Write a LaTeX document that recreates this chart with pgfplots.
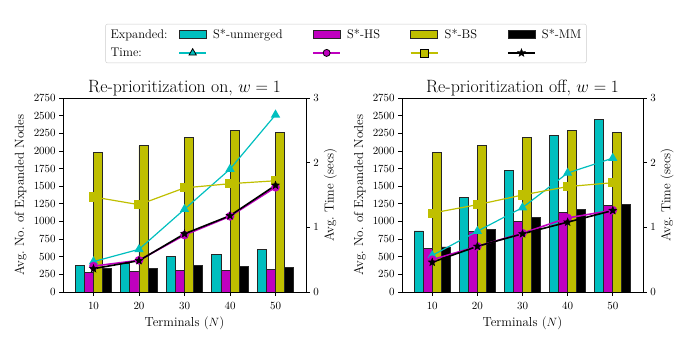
\documentclass[border=0pt]{standalone}
\usepackage{pgfplots}
\pgfplotsset{compat=1.18}
\usetikzlibrary{plotmarks}

\definecolor{cC}{rgb}{0,0.75,0.75}
\definecolor{cM}{rgb}{0.75,0,0.75}
\definecolor{cY}{rgb}{0.75,0.75,0}

% filled five-pointed star, like matplotlib's '*'
\pgfdeclareplotmark{fstar}{%
  \pgfpathmoveto{\pgfpointpolar{90}{\pgfplotmarksize}}%
  \pgfpathlineto{\pgfpointpolar{126}{0.42\pgfplotmarksize}}%
  \pgfpathlineto{\pgfpointpolar{162}{\pgfplotmarksize}}%
  \pgfpathlineto{\pgfpointpolar{198}{0.42\pgfplotmarksize}}%
  \pgfpathlineto{\pgfpointpolar{234}{\pgfplotmarksize}}%
  \pgfpathlineto{\pgfpointpolar{270}{0.42\pgfplotmarksize}}%
  \pgfpathlineto{\pgfpointpolar{306}{\pgfplotmarksize}}%
  \pgfpathlineto{\pgfpointpolar{342}{0.42\pgfplotmarksize}}%
  \pgfpathlineto{\pgfpointpolar{18}{\pgfplotmarksize}}%
  \pgfpathlineto{\pgfpointpolar{54}{0.42\pgfplotmarksize}}%
  \pgfpathclose
  \pgfusepathqfillstroke}

\pgfplotsset{
  common/.style={scale only axis, height=194pt, xmin=3.3, xmax=56.7,
    tick align=outside, major tick length=3.8pt,
    major tick style={black, line width=0.8pt},
    axis line style={line width=0.8pt},
    /pgf/number format/1000 sep={},
    tick label style={font=\fontsize{10.5}{12}\selectfont},
    label style={font=\fontsize{13}{15}\selectfont}},
  barax/.style={common, ymin=0, ymax=2750,
    xtick={10,20,30,40,50}, ytick={0,250,...,2750}, tick pos=left,
    xticklabel style={yshift=-3pt},
    xlabel={Terminals ($N$)}, ylabel={Avg.\ No.\ of Expanded Nodes},
    xlabel style={at={(axis description cs:0.5,-0.16)}, anchor=center},
    ylabel style={at={(axis description cs:-0.175,0.5)}, anchor=center},
    title style={font=\fontsize{17.8}{20}\selectfont, at={(axis description cs:0.5,1.02)}, anchor=center}},
  timeax/.style={common, ymin=0, ymax=3, ytick={0,1,2,3},
    axis x line=none, axis y line*=right, clip=false,
    ylabel={Avg.\ Time (secs)},
    ylabel style={at={(axis description cs:1.10,0.5)}, anchor=center}},
  bar/.style={ybar, bar width=2, draw=black!85, line width=0.8pt, forget plot},
  ln/.style={line width=1.2pt, mark options={draw=black, line width=0.8pt, solid}, forget plot},
  barleg/.style={legend image code/.code={\draw[sharp corners,##1] (0pt,-4pt) rectangle (27pt,4pt); \path[draw=none,fill=none] (0pt,0pt) -- (32pt,0pt);}},
  lineleg/.style={legend image code/.code={\draw[sharp corners,mark repeat=2,mark phase=2,##1] plot coordinates {(0pt,0pt) (13.5pt,0pt) (27pt,0pt)}; \path[draw=none,fill=none] (0pt,0pt) -- (32pt,0pt);}},
}

\begin{document}
\begin{tikzpicture}
\useasboundingbox (0,0) rectangle (689pt,345pt);

% ---- left: re-prioritization on ----
\begin{axis}[barax, at={(63pt,53pt)}, anchor=south west, width=243pt,
  title={Re-prioritization on, $w=1$},
  legend style={at={(axis description cs:1.1646,1.281)}, anchor=center,
    draw=black!20, rounded corners=2pt, font=\fontsize{12.5}{14}\selectfont,
    legend columns=5, row sep=4pt, inner ysep=3pt,
    /tikz/every even column/.append style={column sep=28pt}},
  legend cell align=left]
\addplot[bar, fill=cC, bar shift=-3] coordinates {(10,380) (20,405) (30,507) (40,535) (50,597)};
\addplot[bar, fill=cM, bar shift=-1] coordinates {(10,279) (20,290) (30,305) (40,307) (50,325)};
\addplot[bar, fill=cY, bar shift=1] coordinates {(10,1980) (20,2072) (30,2197) (40,2287) (50,2265)};
\addplot[bar, fill=black, bar shift=3] coordinates {(10,330) (20,331) (30,378) (40,360) (50,350)};
\addlegendimage{empty legend}\addlegendentry{\makebox[38pt][l]{Expanded:}}
\addlegendimage{barleg, fill=cC, draw=black!85, line width=0.8pt}\addlegendentry{S*-unmerged}
\addlegendimage{barleg, fill=cM, draw=black!85, line width=0.8pt}\addlegendentry{S*-HS}
\addlegendimage{barleg, fill=cY, draw=black!85, line width=0.8pt}\addlegendentry{S*-BS}
\addlegendimage{barleg, fill=black, draw=black!85, line width=0.8pt}\addlegendentry{S*-MM}
\addlegendimage{empty legend}\addlegendentry{\makebox[38pt][l]{Time:}}
\addlegendimage{lineleg, cC, line width=1.2pt, mark=triangle*, mark size=4.2pt, mark options={draw=black, fill=cC, line width=0.8pt}}\addlegendentry{}
\addlegendimage{lineleg, cM, line width=1.2pt, mark=*, mark size=3.5pt, mark options={draw=black, fill=cM, line width=0.8pt}}\addlegendentry{}
\addlegendimage{lineleg, cY, line width=1.2pt, mark=square*, mark size=4pt, mark options={draw=black, fill=cY, line width=0.8pt}}\addlegendentry{}
\addlegendimage{lineleg, black, line width=1.6pt, mark=fstar, mark size=4.2pt, mark options={draw=black, fill=black, line width=0.4pt}}\addlegendentry{}
\end{axis}
\begin{axis}[timeax, at={(63pt,53pt)}, anchor=south west, width=243pt]
\addplot[ln, cC, mark=triangle*, mark size=4.2pt, mark options={fill=cC}] coordinates {(10,0.47) (20,0.66) (30,1.28) (40,1.90) (50,2.74)};
\addplot[ln, cM, line width=1.6pt, mark=*, mark size=3.5pt, mark options={fill=cM}] coordinates {(10,0.40) (20,0.49) (30,0.88) (40,1.17) (50,1.62)};
\addplot[ln, cY, mark=square*, mark size=4pt, mark options={fill=cY}] coordinates {(10,1.47) (20,1.35) (30,1.61) (40,1.675) (50,1.72)};
\addplot[ln, black, line width=1.6pt, mark=fstar, mark size=4.2pt, mark options={fill=black, line width=0.4pt}] coordinates {(10,0.36) (20,0.485) (30,0.90) (40,1.18) (50,1.65)};
\end{axis}

% ---- right: re-prioritization off ----
\begin{axis}[barax, at={(402pt,53pt)}, anchor=south west, width=241pt,
  title={Re-prioritization off, $w=1$}]
\addplot[bar, fill=cC, bar shift=-3] coordinates {(10,866) (20,1340) (30,1726) (40,2219) (50,2452)};
\addplot[bar, fill=cM, bar shift=-1] coordinates {(10,611) (20,860) (30,1004) (40,1132) (50,1222)};
\addplot[bar, fill=cY, bar shift=1] coordinates {(10,1980) (20,2072) (30,2197) (40,2287) (50,2265)};
\addplot[bar, fill=black, bar shift=3] coordinates {(10,639) (20,885) (30,1060) (40,1174) (50,1236)};
\end{axis}
\begin{axis}[timeax, at={(402pt,53pt)}, anchor=south west, width=241pt]
\addplot[ln, cC, mark=triangle*, mark size=4.2pt, mark options={fill=cC}] coordinates {(10,0.565) (20,0.94) (30,1.305) (40,1.84) (50,2.07)};
\addplot[ln, cM, line width=1.6pt, mark=*, mark size=3.5pt, mark options={fill=cM}] coordinates {(10,0.50) (20,0.706) (30,0.91) (40,1.145) (50,1.265)};
\addplot[ln, cY, mark=square*, mark size=4pt, mark options={fill=cY}] coordinates {(10,1.22) (20,1.35) (30,1.50) (40,1.63) (50,1.69)};
\addplot[ln, black, line width=1.6pt, mark=fstar, mark size=4.2pt, mark options={fill=black, line width=0.4pt}] coordinates {(10,0.46) (20,0.706) (30,0.90) (40,1.08) (50,1.26)};
\end{axis}
\end{tikzpicture}
\end{document}
